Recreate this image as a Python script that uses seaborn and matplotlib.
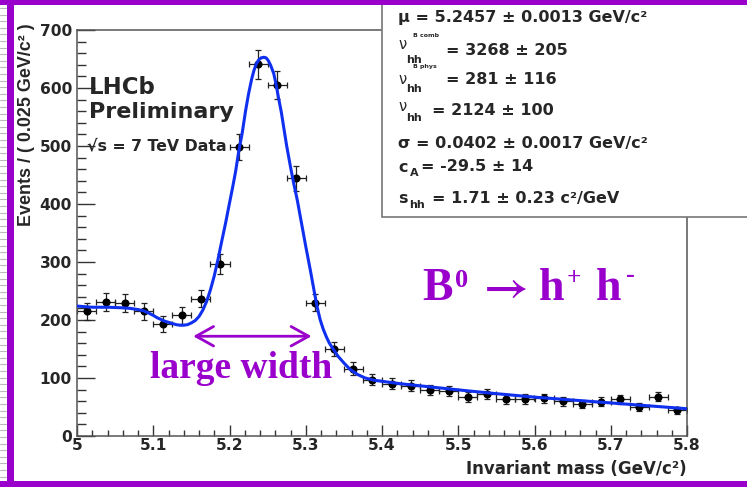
import matplotlib
matplotlib.use("Agg")
import matplotlib.pyplot as plt
import seaborn as sns
import pandas as pd
from matplotlib.ticker import MultipleLocator, FuncFormatter
from matplotlib.patches import Rectangle, FancyArrowPatch
from matplotlib.lines import Line2D

# ---------------- data ----------------
mass = [5.0125, 5.0375, 5.0625, 5.0875, 5.1125, 5.1375, 5.1625, 5.1875,
        5.2125, 5.2375, 5.2625, 5.2875, 5.3125, 5.3375, 5.3625, 5.3875,
        5.4125, 5.4375, 5.4625, 5.4875, 5.5125, 5.5375, 5.5625, 5.5875,
        5.6125, 5.6375, 5.6625, 5.6875, 5.7125, 5.7375, 5.7625, 5.7875]
events = [215, 231, 229, 215, 193, 208, 237, 297,
          499, 641, 605, 444, 230, 150, 116, 97,
          90, 87, 79, 77, 67, 73, 64, 64,
          65, 60, 55, 59, 63, 50, 68, 44]
events_err = [14.7, 15.2, 15.1, 14.7, 13.9, 14.4, 15.4, 17.2,
              22.3, 25.3, 24.6, 21.1, 15.2, 12.2, 10.8, 9.8,
              9.5, 9.3, 8.9, 8.8, 8.2, 8.5, 8.0, 8.0,
              8.1, 7.7, 7.4, 7.7, 7.9, 7.1, 8.2, 6.6]
bin_halfwidth = 0.0125

fit_x = [5.000, 5.020, 5.040, 5.060, 5.070, 5.080, 5.087, 5.094, 5.100, 5.105,
         5.110, 5.115, 5.120, 5.125, 5.130, 5.135, 5.140, 5.145, 5.150, 5.155,
         5.160, 5.165, 5.170, 5.175, 5.180, 5.185, 5.190, 5.195, 5.199, 5.204,
         5.208, 5.212, 5.2165, 5.221, 5.225, 5.229, 5.232, 5.235, 5.238, 5.2415,
         5.245, 5.248, 5.251, 5.254, 5.258, 5.261, 5.264, 5.268, 5.271, 5.275,
         5.280, 5.284, 5.289, 5.294, 5.300, 5.306, 5.311, 5.315, 5.319, 5.323,
         5.327, 5.331, 5.336, 5.342, 5.350, 5.358, 5.368, 5.378, 5.390, 5.425,
         5.468, 5.504, 5.550, 5.600, 5.650, 5.700, 5.750, 5.800]
fit_y = [224, 222, 222, 221, 220, 218, 216, 212, 208, 204,
         201, 198, 196, 194, 192, 191, 191, 192, 195, 199,
         206, 217, 232, 252, 276, 305, 337, 368, 395, 428,
         456, 490, 521, 560, 590, 615, 630, 641, 648, 652,
         653, 652, 647, 639, 625, 607, 585, 558, 533, 500,
         464, 437, 406, 370, 327, 286, 250, 222, 200, 184,
         171, 160, 150, 138, 126, 115, 106, 100, 96, 90,
         84, 79, 73, 67, 62, 57, 52, 47]

x_label = "Invariant mass (GeV/c²)"
y_label = "Events / ( 0.025 GeV/c² )"

# ---------------- figure ----------------
sns.set_style("ticks")
plt.rcParams["font.family"] = ["DejaVu Sans"]
W, H = 747, 487
PURPLE = "#9900CC"
fig = plt.figure(figsize=(W / 100, H / 100), dpi=100)
fig.patch.set_facecolor("white")

def fx(px):
    return px / W

def fy(py):
    return 1 - py / H

ax = fig.add_axes([fx(77), fy(436), (687 - 77) / W, (436 - 30) / H])

df_pts = pd.DataFrame({"mass": mass, "events": events})
df_fit = pd.DataFrame({"mass": fit_x, "events": fit_y})

ax.errorbar(mass, events, xerr=bin_halfwidth, yerr=events_err, fmt="none",
            ecolor="#222222", elinewidth=0.9, capsize=2.2, capthick=0.9, zorder=2)
sns.scatterplot(data=df_pts, x="mass", y="events", color="black", s=34,
                edgecolor="black", linewidth=0, ax=ax, zorder=3)
sns.lineplot(data=df_fit, x="mass", y="events", sort=False, estimator=None,
             color="#1030F0", linewidth=2.2, ax=ax, zorder=4)
for ln in ax.get_lines():
    ln.set_solid_joinstyle("round")
    ln.set_solid_capstyle("round")

ax.set_xlim(5.0, 5.8)
ax.set_ylim(0, 700)
ax.xaxis.set_major_locator(MultipleLocator(0.1))
ax.xaxis.set_minor_locator(MultipleLocator(0.02))
ax.yaxis.set_major_locator(MultipleLocator(100))
ax.yaxis.set_minor_locator(MultipleLocator(20))
ax.xaxis.set_major_formatter(FuncFormatter(lambda v, p: f"{v:g}"))
ax.yaxis.set_major_formatter(FuncFormatter(lambda v, p: f"{v:g}"))
ax.tick_params(axis="x", which="major", direction="in", length=7.9, width=1.0,
               color="#333333", pad=1.5, labelsize=11.2)
ax.tick_params(axis="x", which="minor", direction="in", length=4.1, width=1.0, color="#333333")
ax.tick_params(axis="y", which="major", direction="in", length=13, width=1.0,
               color="#333333", pad=3.6, labelsize=11.2)
ax.tick_params(axis="y", which="minor", direction="in", length=6.5, width=1.0, color="#333333")
for lab in ax.get_xticklabels() + ax.get_yticklabels():
    lab.set_fontweight("bold")
for sp in ax.spines.values():
    sp.set_visible(True)
    sp.set_color("#555555")
    sp.set_linewidth(1.1)

ax.set_xlabel(x_label, fontsize=12.0, fontweight="bold")
xl = ax.xaxis.label
xl.set_ha("right")
xl.set_va("top")
ax.xaxis.set_label_coords(1.0, -(460 - 436) / 406)

ax.set_ylabel(y_label, fontsize=12.9, fontweight="bold", family=["Liberation Sans", "DejaVu Sans"])
yl = ax.yaxis.label
yl.set_rotation_mode("default")
yl.set_ha("center")
yl.set_va("top")
ax.yaxis.set_label_coords((27 - 77) / 610, (436 - 23) / 406)

# LHCb labels
fig.text(fx(89), fy(87), "LHCb", fontsize=16.5, fontweight="bold", va="center", ha="left")
fig.text(fx(89), fy(112), "Preliminary", fontsize=16.0, fontweight="bold", va="center", ha="left")
fig.text(fx(87), fy(146), "√s = 7 TeV Data", fontsize=11.3, fontweight="bold", va="center", ha="left")

# purple annotations: B0 -> h+ h-
def ptxt(px, py, s, size):
    fig.text(fx(px), fy(py), s, fontsize=size, family=["Liberation Serif", "DejaVu Serif"],
             fontweight="bold", color=PURPLE, ha="left", va="baseline")

ptxt(422, 300, "B", 33)
ptxt(455, 287, "0", 19)
fig.text(fx(477), fy(300), r"$\mathbf{\rightarrow}$", math_fontfamily="stix",
         fontsize=33, color=PURPLE, ha="left", va="baseline")
ptxt(539, 300, "h", 33)
ptxt(567, 285, "+", 18)
ptxt(596, 300, "h", 33)
ptxt(626, 282, "-", 19)

ax.text(5.0 + (150 - 77) / 761, (436 - 378) / 0.58, "large width", fontsize=27,
        family=["Liberation Serif"], fontweight="bold", color=PURPLE,
        ha="left", va="baseline")
arrow = FancyArrowPatch((5.1524, 172), (5.3075, 172), arrowstyle="<->,head_length=0.9,head_width=0.5",
                        mutation_scale=14, color=PURPLE, lw=2.0, shrinkA=0, shrinkB=0, zorder=5)
ax.add_patch(arrow)

# stats box
box = Rectangle((fx(382), fy(217)), (770 - 382) / W, (217 - 4) / H, transform=fig.transFigure,
                facecolor="white", edgecolor="#777777", lw=1.2, zorder=10)
fig.add_artist(box)

def t(px, py, s, size=11.5, weight="bold", **kw):
    fig.text(fx(px), fy(py), s, fontsize=size, fontweight=weight, ha="left",
             va="baseline", zorder=11, **kw)

t(398, 22, "μ = 5.2457 ± 0.0013 GeV/c²")
t(398, 49, "ν", size=10.5, weight="normal")
t(413, 37, "B comb", size=4.5)
t(406, 63, "hh", size=8)
t(446, 55, "= 3268 ± 205")
t(398, 84, "ν", size=10.5, weight="normal")
t(413, 68, "B phys", size=4.5)
t(406, 92, "hh", size=8)
t(446, 84, "= 281 ± 116")
t(398, 111, "ν", size=10.5, weight="normal")
t(406, 121, "hh", size=8)
t(432, 115, "= 2124 ± 100")
t(398, 148, "σ = 0.0402 ± 0.0017 GeV/c²")
t(398, 172, "c")
t(410, 176, "A", size=8)
t(421, 171, "= -29.5 ± 14")
t(398, 203, "s")
t(409, 208, "hh", size=8)
t(432, 203, "= 1.71 ± 0.23 c²/GeV")

# purple slide frame
for (x0, y0, x1, y1) in [(0, 0, W, 5), (7, 0, 14, H), (0, 481, W, H)]:
    fig.add_artist(Rectangle((fx(x0), fy(y1)), (x1 - x0) / W, (y1 - y0) / H,
                             transform=fig.transFigure, facecolor=PURPLE,
                             edgecolor="none", zorder=20))
# grey dashed strip on the far left
yy = 8
while yy < H - 6:
    fig.add_artist(Line2D([0, fx(6)], [fy(yy), fy(yy)], transform=fig.transFigure,
                          color="#BBBBBB", lw=0.8, zorder=20))
    yy += 6.6

fig.savefig("out.png", dpi=100)
